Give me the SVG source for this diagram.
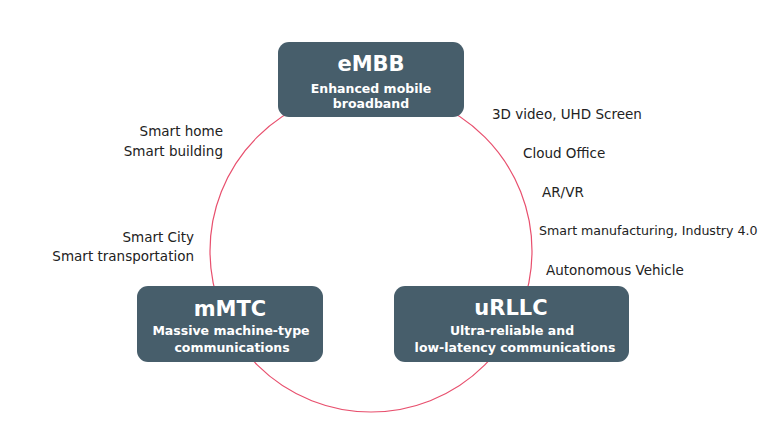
<svg xmlns="http://www.w3.org/2000/svg" width="768" height="432" viewBox="0 0 768 432">
<style>
.box{fill:#475e6b}
.title{font-family:"DejaVu Sans",sans-serif;font-weight:bold;font-size:21px;fill:#ffffff;text-anchor:middle}
.sub{font-family:"DejaVu Sans",sans-serif;font-weight:bold;font-size:12.5px;fill:#ffffff;text-anchor:middle}
.lbl{font-family:"DejaVu Sans",sans-serif;font-size:13.5px;fill:#222222}
.r{text-anchor:end}
.ring{fill:none;stroke:#e8506e;stroke-width:1.2}
</style>
<rect width="768" height="432" fill="#ffffff"/>
<g id="connectors">
<circle class="ring" cx="371" cy="251" r="161"/>
</g>
<g id="labels">
<text class="lbl" x="492" y="119">3D video, UHD Screen</text>
<text class="lbl" x="523" y="158">Cloud Office</text>
<text class="lbl" x="542" y="197">AR/VR</text>
<text class="lbl" x="539" y="235" style="font-size:12.6px">Smart manufacturing, Industry 4.0</text>
<text class="lbl" x="546" y="275">Autonomous Vehicle</text>
<text class="lbl r" x="223" y="136">Smart home</text>
<text class="lbl r" x="223" y="156">Smart building</text>
<text class="lbl r" x="194" y="242">Smart City</text>
<text class="lbl r" x="194" y="261">Smart transportation</text>
</g>
<g id="eMBB">
<rect class="box" x="278" y="42" width="186" height="75" rx="11"/>
<text class="title" x="371" y="71">eMBB</text>
<text class="sub" x="371" y="93">Enhanced mobile</text>
<text class="sub" x="371" y="108">broadband</text>
</g>
<g id="mMTC">
<rect class="box" x="137" y="286" width="186" height="76" rx="11"/>
<text class="title" x="230" y="316">mMTC</text>
<text class="sub" x="231" y="335">Massive machine-type</text>
<text class="sub" x="232" y="352">communications</text>
</g>
<g id="uRLLC">
<rect class="box" x="394" y="286" width="235" height="76" rx="11"/>
<text class="title" x="511" y="315">uRLLC</text>
<text class="sub" x="512" y="335">Ultra-reliable and</text>
<text class="sub" x="515" y="352">low-latency communications</text>
</g>
</svg>
